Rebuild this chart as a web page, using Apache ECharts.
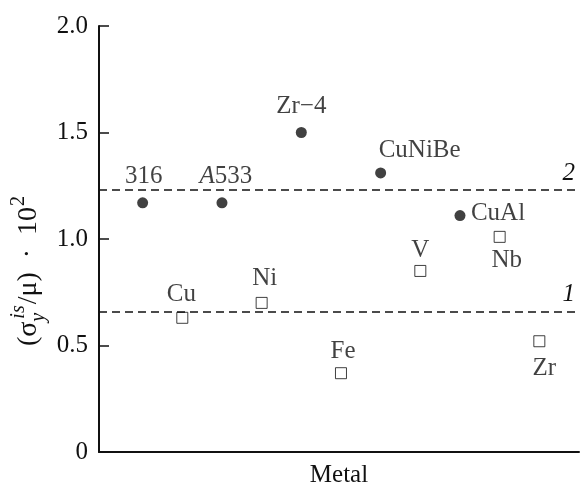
<!DOCTYPE html>
<html>
<head>
<meta charset="utf-8">
<script src="https://cdn.jsdelivr.net/npm/echarts@6/dist/echarts.min.js"></script>
<style>
html,body{margin:0;padding:0;background:#fff;}
#chart{width:580px;height:493px;}
</style>
</head>
<body>
<div id="chart"></div>
<script>
// ---- data ----
const filledNames = ['316', 'A533', 'Zr\u22124', 'CuNiBe', 'CuAl'];
const filledX = [1, 3, 5, 7, 9];
const filledY = [1.17, 1.17, 1.50, 1.31, 1.11];
const openNames = ['Cu', 'Ni', 'Fe', 'V', 'Nb', 'Zr'];
const openX = [2, 4, 6, 8, 10, 11];
const openY = [0.63, 0.70, 0.37, 0.85, 1.01, 0.52];
const refValues = [1.23, 0.66];
const refNames = ['2', '1'];
const yMin = 0, yMax = 2, yStep = 0.5;
const xTitle = 'Metal';

// ---- styling (label offsets relative to marks) ----
const filledOffsets = [[1, -26], [4, -26], [0, -26], [39, -23], [38, -2]];
const openOffsets = [[-1, -23], [3, -24], [2, -22], [0, -21], [7, 24], [5, 27]];

const FONT = '"Liberation Serif", "Times New Roman", serif';
const INK = '#111';
const FS = 25;

function labelFor(name, off) {
  const isA = name === 'A533';
  return {
    show: true,
    position: 'inside',
    offset: off,
    formatter: isA ? '{i|A}533' : name,
    fontFamily: FONT,
    fontSize: FS,
    color: INK,
    rich: { i: { fontStyle: 'italic', fontFamily: FONT, fontSize: FS, color: INK } }
  };
}

const filledData = filledX.map((x, i) => ({
  value: [x, filledY[i]],
  label: labelFor(filledNames[i], filledOffsets[i])
}));
const openData = openX.map((x, i) => ({
  value: [x, openY[i]],
  label: labelFor(openNames[i], openOffsets[i])
}));

// ---- rotated y-axis title with stacked sub/superscript ----
const ctx = document.createElement('canvas').getContext('2d');
function tw(t, size, italic) {
  ctx.font = (italic ? 'italic ' : '') + size + 'px "Liberation Serif"';
  return ctx.measureText(t).width;
}
const M = 28, S = 20;
const parts = [];
let cx = 0;
function addMain(t) { parts.push({ t, x: cx, y: -0.3 * M, size: M, it: false }); cx += tw(t, M, false); }
addMain('(\u03c3');
const subW = tw('y', S, true), supW = tw('is', S, true);
parts.push({ t: 'y', x: cx, y: 8 - 0.3 * S, size: S, it: true });
parts.push({ t: 'is', x: cx + 3, y: -12 - 0.3 * S, size: S, it: true });
cx += Math.max(subW, supW + 3) + 1;
addMain('/\u03bc)  \u00b7  10');
parts.push({ t: '2', x: cx + 1, y: -12 - 0.3 * S, size: S, it: false });
cx += tw('2', S, false) + 1;
const L = cx;
const titleCenterY = 271, titleBaseX = 37;

const chart = echarts.init(document.getElementById('chart'), null, { renderer: 'canvas' });
chart.setOption({
  animation: false,
  backgroundColor: '#fff',
  grid: { left: 99, right: 1, top: 26, bottom: 34, containLabel: false },
  xAxis: {
    type: 'value', min: -0.1, max: 12,
    axisLine: { show: true, lineStyle: { color: INK, width: 2 } },
    axisTick: { show: false }, axisLabel: { show: false }, splitLine: { show: false },
    name: xTitle, nameLocation: 'middle', nameGap: 11,
    nameTextStyle: { fontFamily: FONT, fontSize: FS, color: INK, verticalAlign: 'top' }
  },
  yAxis: {
    type: 'value', min: yMin, max: yMax, interval: yStep,
    axisLine: { show: true, onZero: false, lineStyle: { color: INK, width: 2 } },
    axisTick: { show: true, inside: true, length: 10, lineStyle: { color: INK, width: 1.5 } },
    axisLabel: {
      fontFamily: FONT, fontSize: FS, color: INK, margin: 11,
      formatter: v => (v === 0 ? '0' : v.toFixed(1))
    },
    splitLine: { show: false }
  },
  graphic: [{
    type: 'group', x: titleBaseX, y: titleCenterY + L / 2, rotation: Math.PI / 2,
    children: parts.map(p => ({
      type: 'text', x: p.x, y: p.y,
      style: {
        text: p.t, fontFamily: FONT, fontSize: p.size, fontStyle: p.it ? 'italic' : 'normal',
        fill: INK, align: 'left', verticalAlign: 'middle'
      }
    }))
  }],
  series: [
    {
      type: 'scatter', data: filledData, symbol: 'circle', symbolSize: 11,
      itemStyle: { color: INK },
      markLine: {
        silent: true, symbol: 'none',
        lineStyle: { color: INK, type: [8, 5], width: 1.5 },
        data: refValues.map((v, i) => ({
          yAxis: v,
          label: {
            show: true, position: 'insideEndTop', distance: 4, formatter: refNames[i],
            fontFamily: FONT, fontSize: FS, fontStyle: 'italic', color: INK
          }
        }))
      },
      z: 3
    },
    {
      type: 'scatter', data: openData, symbol: 'rect', symbolSize: 11,
      itemStyle: { color: '#fff', borderColor: INK, borderWidth: 1 },
      z: 3
    }
  ]
});
</script>
</body>
</html>
